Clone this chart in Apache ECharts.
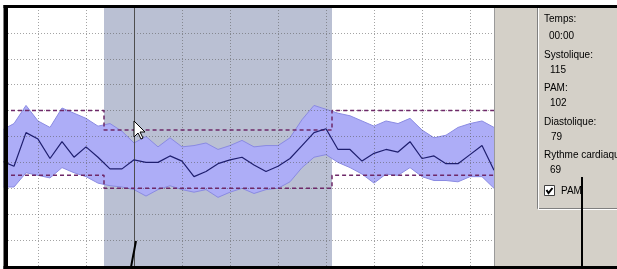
<!DOCTYPE html>
<html>
<head>
<meta charset="utf-8">
<script src="https://cdn.jsdelivr.net/npm/echarts@6/dist/echarts.min.js"></script>
<style>
  html, body { margin: 0; padding: 0; background: #fff; overflow: hidden; }
  /* plot starts 10px left of the window so the hour grid lands where it should */
  #chart { position: absolute; left: -10px; top: 0; width: 627px; height: 269px; }
</style>
</head>
<body>
<div id="chart"></div>
<script>
// ----------------------
// DATA
// ----------------------
// one reading every 15 min, hours relative to midnight
const startHour = -2.75;
const stepHour = 0.25;
const systolic = [125, 130, 144, 132, 127, 142, 138, 134, 128, 130, 124, 115, 120, 112, 119, 112, 113, 115, 110, 113, 117, 112, 113, 113, 119, 133, 144, 141, 138, 136, 132, 128, 132, 130, 134, 125, 119, 121, 127, 130, 132, 127];
const diastolic = [81, 81, 92, 90, 88, 96, 92, 89, 84, 82, 81, 79, 74, 79, 82, 79, 77, 79, 73, 77, 80, 76, 79, 80, 85, 96, 104, 106, 100, 96, 91, 84, 91, 90, 96, 89, 86, 86, 85, 89, 89, 80];
const pam = [101, 97, 123, 118, 103, 116, 104, 112, 104, 95, 95, 102, 100, 100, 105, 101, 89, 93, 99, 102, 104, 98, 93, 97, 103, 113, 123, 126, 110, 110, 101, 107, 110, 108, 116, 103, 105, 99, 99, 106, 113, 94];

// night period and limits (systolic, diastolic)
const nightStart = -0.625;
const nightEnd = 4.125;
const dayLimits = [140, 90];
const nightLimits = [125, 80];

const xMin = -3;
const xMax = 7.5;
const cursorHour = 0;
const cursorTime = "00:00";
const heartRate = 69;

// ----------------------
// HELPERS
// ----------------------
const hourAt = (k) => startHour + k * stepHour;
const pairs = (arr) => arr.map((v, k) => [hourAt(k), v]);

function limitLine(n) {
  return [
    [xMin, dayLimits[n]],
    [nightStart, dayLimits[n]],
    [nightStart, nightLimits[n]],
    [nightEnd, nightLimits[n]],
    [nightEnd, dayLimits[n]],
    [xMax, dayLimits[n]],
  ];
}

const cursorIdx = Math.round((cursorHour - startHour) / stepHour);

// band between systolic and diastolic, drawn once as a polygon
function renderBand(params, api) {
  if (params.dataIndex !== 0) return null;
  const top = systolic.map((v, k) => api.coord([hourAt(k), v]));
  const bottom = diastolic.map((v, k) => api.coord([hourAt(k), v])).reverse();
  return {
    type: "polygon",
    shape: { points: top.concat(bottom) },
    style: { fill: "#adadf7" },
  };
}

// ----------------------
// CHART
// ----------------------
const chart = echarts.init(document.getElementById("chart"));

const gridLine = {
  show: true,
  lineStyle: { color: "rgba(90,90,90,0.55)", type: [1, 2], width: 1 },
};

const limitStyle = { color: "#6e2868", type: [4, 3], width: 1.5 };
const edgeStyle = { color: "#8a8ae2", width: 1 };
const font = '"Liberation Sans Narrow", "Liberation Sans", Arial, sans-serif';

function label(text, x, y) {
  return {
    type: "text",
    z: 110,
    style: { text, x, y, fill: "#000", fontSize: 10, fontFamily: font, verticalAlign: "middle" },
  };
}

chart.setOption({
  animation: false,
  grid: { left: 0, right: 123, top: 7, bottom: 3 },
  xAxis: {
    type: "value",
    min: xMin,
    max: xMax,
    interval: 1,
    z: 4,
    axisLine: { show: false },
    axisTick: { show: false },
    axisLabel: { show: false },
    splitLine: gridLine,
  },
  yAxis: {
    type: "value",
    min: 20,
    max: 220,
    interval: 20,
    z: 4,
    axisLine: { show: false },
    axisTick: { show: false },
    axisLabel: { show: false },
    splitLine: gridLine,
  },
  series: [
    {
      name: "Nuit",
      type: "line",
      data: [],
      z: 1,
      markArea: {
        silent: true,
        itemStyle: { color: "#bac0d3" },
        data: [[{ xAxis: nightStart }, { xAxis: nightEnd }]],
      },
    },
    {
      name: "Plage",
      type: "custom",
      data: pairs(systolic),
      encode: { x: 0, y: 1 },
      z: 2,
      silent: true,
      renderItem: renderBand,
    },
    {
      name: "Diastolique",
      type: "line",
      data: pairs(diastolic),
      symbol: "none",
      z: 3,
      lineStyle: edgeStyle,
    },
    {
      name: "Systolique",
      type: "line",
      data: pairs(systolic),
      symbol: "none",
      z: 3,
      lineStyle: edgeStyle,
    },
    {
      name: "Limite systolique",
      type: "line",
      data: limitLine(0),
      symbol: "none",
      z: 5,
      lineStyle: limitStyle,
    },
    {
      name: "Limite diastolique",
      type: "line",
      data: limitLine(1),
      symbol: "none",
      z: 5,
      lineStyle: limitStyle,
    },
    {
      name: "PAM",
      type: "line",
      data: pairs(pam),
      symbol: "none",
      z: 6,
      lineStyle: { color: "#1e1e6e", width: 1.2 },
      markLine: {
        silent: true,
        symbol: "none",
        label: { show: false },
        lineStyle: { color: "#4e4e4e", type: "solid", width: 1 },
        data: [{ xAxis: cursorHour }],
      },
    },
  ],
  graphic: [
    {
      // window coordinates (the chart div sits 10px to the left)
      type: "group",
      x: 10,
      y: 0,
      z: 100,
      children: [
        // frame
        { type: "rect", z: 100, shape: { x: -10, y: 0, width: 13.5, height: 269 }, style: { fill: "#fff" } },
        { type: "rect", z: 100, shape: { x: 3.5, y: 5, width: 4.5, height: 264 }, style: { fill: "#000" } },
        { type: "rect", z: 100, shape: { x: 3.5, y: 5, width: 614, height: 3 }, style: { fill: "#000" } },
        { type: "rect", z: 100, shape: { x: 3.5, y: 266, width: 614, height: 3 }, style: { fill: "#000" } },
        // side panel
        { type: "rect", z: 100, shape: { x: 494, y: 8, width: 123, height: 258 }, style: { fill: "#d4d0c8" } },
        { type: "line", z: 101, shape: { x1: 494.5, y1: 8, x2: 494.5, y2: 266 }, style: { stroke: "#9a9a9a", lineWidth: 1 } },
        { type: "polyline", z: 101, shape: { points: [[537.5, 8], [537.5, 208.5], [617, 208.5]] }, style: { stroke: "#808080", lineWidth: 1, fill: null } },
        { type: "polyline", z: 101, shape: { points: [[538.5, 8], [538.5, 209.5], [617, 209.5]] }, style: { stroke: "#ffffff", lineWidth: 1, fill: null } },
        label("Temps:", 544, 19),
        label(cursorTime, 549, 36),
        label("Systolique:", 544, 55),
        label(String(systolic[cursorIdx]), 550, 70),
        label("PAM:", 544, 88),
        label(String(pam[cursorIdx]), 550, 103),
        label("Diastolique:", 544, 122),
        label(String(diastolic[cursorIdx]), 551, 137),
        label("Rythme cardiaque", 544, 155),
        label(String(heartRate), 550, 170),
        { type: "rect", z: 110, shape: { x: 544.5, y: 185.5, width: 10, height: 10 }, style: { fill: "#fff", stroke: "#404040", lineWidth: 1 } },
        { type: "polyline", z: 111, shape: { points: [[546.5, 190], [548.5, 193], [552.5, 188]] }, style: { stroke: "#000", lineWidth: 2, fill: null } },
        label("PAM", 561, 191),
        // leader lines
        { type: "line", z: 120, shape: { x1: 136, y1: 241, x2: 131, y2: 267 }, style: { stroke: "#000", lineWidth: 2 } },
        { type: "line", z: 120, shape: { x1: 582, y1: 177, x2: 582, y2: 267 }, style: { stroke: "#000", lineWidth: 2 } },
        // mouse pointer
        {
          type: "polygon",
          z: 120,
          shape: { points: [[134, 121], [134, 137], [138, 133], [141, 139], [143, 138], [140, 132], [145, 132]] },
          style: { fill: "#fff", stroke: "#000", lineWidth: 1 },
        },
      ],
    },
  ],
});
</script>
</body>
</html>
